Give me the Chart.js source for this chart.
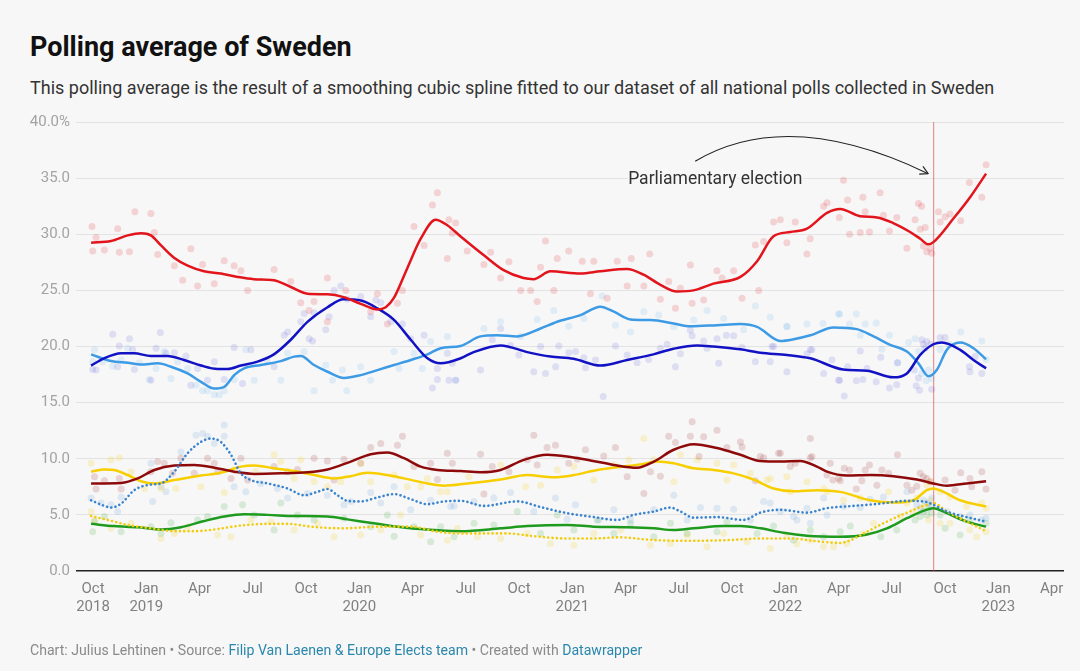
<!DOCTYPE html>
<html>
<head>
<meta charset="utf-8">
<script src="https://cdn.jsdelivr.net/npm/chart.js@4.4.1/dist/chart.umd.min.js"></script>
<style>
html,body{margin:0;padding:0;background:#f7f7f7;}
body{width:1080px;height:671px;position:relative;overflow:hidden;font-family:Roboto,"Noto Sans",sans-serif;}
#title{position:absolute;left:30px;top:31px;font-size:27px;font-weight:700;color:#111;line-height:33px;white-space:nowrap;}
#sub{position:absolute;left:30px;top:76px;font-size:18px;color:#333;line-height:23px;white-space:nowrap;}
#foot{position:absolute;left:30px;top:641px;font-size:14.1px;color:#8a8a8a;line-height:18px;white-space:nowrap;}
#foot a{color:#2a87ad;text-decoration:none;}
#c{position:absolute;left:0;top:0;}
</style>
</head>
<body>
<div id="title">Polling average of Sweden</div>
<div id="sub">This polling average is the result of a smoothing cubic spline fitted to our dataset of all national polls collected in Sweden</div>
<canvas id="c" width="1080" height="671"></canvas>
<div id="foot">Chart: Julius Lehtinen • Source: <a>Filip Van Laenen &amp; Europe Elects team</a> • Created with <a>Datawrapper</a></div>
<script>
// x values: months since 1 Oct 2018; y values: percent
const tickMonths = [0,3,6,9,12,15,18,21,24,27,30,33,36,39,42,45,48,51,54];
const tickLabels = [["Oct","2018"],["Jan","2019"],["Apr"],["Jul"],["Oct"],["Jan","2020"],["Apr"],["Jul"],["Oct"],["Jan","2021"],["Apr"],["Jul"],["Oct"],["Jan","2022"],["Apr"],["Jul"],["Oct"],["Jan","2023"],["Apr"]];
const yTicks = [0,5,10,15,20,25,30,35,40];
const yTickLabels = ["0.0","5.0","10.0","15.0","20.0","25.0","30.0","35.0","40.0%"];
const electionMonth = 47.33;
const electionLabel = "Parliamentary election";

const S_trend = [[-0.11,29.25],[1.01,29.4],[1.95,29.9],[2.7,30.1],[3.26,29.9],[3.83,29.0],[4.56,27.9],[5.33,27.2],[6.25,26.7],[7.2,26.5],[8.14,26.2],[9.06,26.0],[10.19,25.9],[11.14,25.3],[12.08,24.7],[13.21,24.65],[14.12,24.4],[15.08,23.8],[16.02,23.3],[16.49,23.5],[16.94,24.3],[17.71,27.0],[18.46,29.6],[19.3,31.3],[19.96,30.8],[20.71,29.8],[22.0,28.15],[23.13,26.8],[24.25,26.1],[24.82,26.0],[25.77,26.7],[27.46,26.5],[28.58,26.7],[30.09,26.9],[31.01,26.4],[31.96,25.5],[32.9,24.9],[33.82,25.0],[34.95,25.6],[36.47,26.2],[37.41,27.6],[38.32,29.8],[39.28,30.2],[40.22,30.5],[41.35,31.9],[42.09,32.25],[43.22,31.6],[44.16,31.5],[45.08,31.0],[46.03,30.2],[46.6,29.6],[47.06,29.1],[47.34,29.3],[48.47,31.4],[49.41,33.3],[50.31,35.4]];
const SD_trend = [[-0.11,18.3],[0.62,18.95],[1.58,19.4],[2.31,19.4],[3.26,19.15],[4.2,19.15],[5.12,18.8],[6.08,18.3],[7.02,18.0],[7.58,18.0],[8.33,18.3],[9.27,18.65],[10.19,19.3],[11.14,20.6],[12.08,22.2],[13.21,23.5],[14.12,24.2],[15.08,24.1],[16.02,23.4],[16.94,22.4],[17.9,20.6],[18.84,18.95],[19.58,18.5],[20.71,18.95],[21.44,19.5],[22.96,20.1],[24.46,19.5],[25.77,19.1],[27.07,18.9],[28.58,18.3],[30.09,18.8],[31.57,19.3],[32.7,19.8],[34.03,20.1],[34.95,20.0],[36.47,19.75],[37.59,19.45],[39.09,19.25],[40.41,18.95],[42.26,17.95],[43.6,17.85],[45.08,17.25],[45.85,17.6],[46.6,19.25],[47.34,20.2],[47.82,20.35],[48.85,19.7],[49.6,18.8],[50.31,18.05]];
const M_trend = [[-0.11,19.3],[1.01,18.7],[1.95,18.55],[2.7,18.4],[3.64,18.5],[4.39,18.2],[5.33,17.6],[6.08,16.85],[6.83,16.25],[7.39,16.4],[7.95,17.45],[8.51,18.05],[9.45,18.35],[10.58,18.7],[11.33,19.1],[11.71,19.15],[12.45,18.35],[13.21,17.75],[14.14,17.2],[15.08,17.45],[16.02,17.9],[16.96,18.35],[17.9,18.8],[18.84,19.3],[19.58,19.85],[20.71,20.05],[21.83,20.9],[22.77,21.0],[23.9,20.9],[25.21,21.6],[26.15,22.2],[27.46,22.8],[28.58,23.55],[29.34,23.1],[30.28,22.4],[31.4,22.35],[32.71,22.05],[33.65,21.8],[35.15,21.9],[36.47,22.0],[37.41,21.75],[38.72,20.5],[39.47,20.65],[40.41,21.0],[41.72,21.7],[43.03,21.55],[43.97,20.9],[44.91,20.15],[45.85,19.55],[46.5,18.5],[47.06,17.35],[47.53,17.9],[48.1,19.7],[48.85,20.35],[49.6,19.85],[50.31,18.85]];
const V_trend = [[-0.11,7.8],[1.58,7.85],[2.52,8.25],[3.45,9.0],[4.58,9.4],[5.7,9.45],[6.83,9.2],[7.95,8.85],[9.08,8.65],[10.58,8.7],[12.08,8.8],[13.21,9.05],[14.52,9.75],[15.64,10.4],[16.58,10.55],[17.52,10.05],[18.46,9.3],[19.4,9.0],[20.71,8.9],[21.83,8.8],[22.96,9.0],[24.27,9.9],[25.59,10.35],[26.71,10.2],[28.02,9.85],[29.34,9.45],[30.65,9.2],[31.59,9.75],[32.71,10.8],[33.84,11.3],[35.15,10.95],[36.47,10.35],[37.59,9.8],[38.72,9.75],[39.84,9.8],[40.78,9.3],[41.35,8.85],[42.47,8.5],[43.78,8.55],[45.09,8.45],[46.41,8.15],[47.34,7.8],[48.1,7.6],[49.22,7.8],[50.31,8.0]];
const C_trend = [[-0.11,8.85],[0.64,9.05],[1.2,9.0],[1.95,8.55],[2.7,8.0],[3.45,7.8],[4.58,8.1],[6.08,8.5],[7.2,8.75],[8.33,9.3],[9.08,9.4],[10.2,9.15],[11.33,8.9],[12.45,8.55],[13.58,8.25],[14.52,8.45],[15.46,8.75],[16.58,8.55],[17.52,8.25],[18.84,7.8],[19.77,7.6],[21.09,7.8],[22.96,8.15],[24.46,8.55],[25.96,8.35],[27.09,8.55],[28.4,9.0],[29.53,9.25],[30.84,9.5],[31.78,9.75],[32.71,9.6],[33.84,9.15],[34.96,9.0],[36.09,8.7],[37.21,8.15],[38.34,7.35],[39.47,7.1],[40.78,7.2],[42.09,7.05],[43.78,6.3],[45.09,6.1],[46.22,6.3],[46.97,7.2],[47.34,7.35],[47.91,7.05],[48.85,6.3],[50.31,5.75]];
const KD_trend = [[-0.11,6.3],[0.64,5.8],[1.01,5.65],[1.58,6.0],[2.32,7.2],[3.26,7.7],[3.83,7.8],[4.58,8.85],[5.33,10.5],[6.08,11.5],[6.64,11.8],[7.2,11.5],[7.77,10.35],[8.33,8.7],[8.89,8.1],[9.83,7.8],[10.96,7.35],[11.89,6.75],[12.64,7.05],[13.21,7.3],[13.77,6.75],[14.33,6.25],[15.08,6.2],[16.02,6.55],[16.96,6.85],[17.9,6.4],[18.84,5.95],[19.77,6.2],[20.71,6.25],[22.02,5.8],[23.9,6.2],[25.21,5.7],[26.71,5.15],[28.02,4.85],[29.53,4.55],[30.46,5.0],[31.59,5.3],[32.53,5.65],[33.09,5.3],[33.84,4.75],[35.15,4.8],[36.65,4.55],[37.59,5.2],[38.72,5.45],[40.22,5.2],[41.35,5.6],[42.84,5.8],[44.34,6.0],[45.85,6.25],[46.78,6.2],[47.34,5.9],[48.1,5.3],[49.22,4.8],[50.31,4.4]];
const MP_trend = [[-0.11,4.2],[1.2,4.0],[2.52,3.9],[3.83,3.7],[4.95,3.9],[6.26,4.45],[7.39,4.85],[8.51,5.05],[9.83,5.0],[11.33,4.9],[13.21,4.85],[14.33,4.6],[16.02,4.2],[17.9,3.8],[19.21,3.65],[20.71,3.55],[22.96,3.8],[24.46,4.0],[26.71,4.1],[28.21,3.95],[30.09,3.9],[31.59,3.8],[32.71,3.65],[33.84,3.8],[35.53,4.0],[36.47,4.0],[37.59,3.8],[38.9,3.4],[40.22,3.15],[42.09,3.05],[43.6,3.25],[44.72,3.8],[45.85,4.7],[46.78,5.35],[47.34,5.6],[48.1,5.15],[49.22,4.4],[50.31,3.95]];
const L_trend = [[-0.11,4.9],[0.83,4.55],[1.95,4.1],[3.26,3.8],[4.58,3.55],[5.7,3.55],[6.83,3.7],[8.33,4.05],[9.83,4.2],[10.96,4.2],[12.27,3.95],[14.14,3.8],[16.02,3.95],[17.9,3.95],[19.4,3.5],[20.71,3.35],[23.34,3.35],[24.83,3.1],[26.71,2.9],[28.21,2.9],[29.71,3.0],[31.22,2.8],[32.71,2.7],[34.22,2.7],[35.72,2.75],[37.59,2.9],[39.28,2.9],[40.78,2.65],[42.09,2.5],[42.6,2.7],[43.6,3.5],[44.72,4.4],[45.85,5.2],[46.97,5.9],[47.34,6.05],[48.1,5.3],[49.22,4.4],[50.31,3.55]];

const S_polls = [[-0.06,30.7],[0.17,29.7],[-0.02,28.5],[0.64,28.6],[1.39,30.5],[1.48,28.4],[2.05,28.45],[2.36,32.0],[3.26,31.85],[3.45,30.15],[3.64,28.2],[4.58,27.2],[5.05,25.9],[5.51,28.7],[5.89,25.4],[6.17,27.3],[6.83,25.6],[7.39,27.65],[7.95,27.2],[8.33,26.75],[8.71,25.0],[10.2,26.85],[11.14,25.8],[11.7,23.9],[12.17,23.2],[12.45,24.0],[13.2,26.1],[13.2,22.2],[14.24,25.0],[15.64,23.1],[16.02,24.7],[16.58,22.0],[17.15,23.85],[17.43,25.0],[18.08,30.7],[18.65,29.0],[19.12,32.6],[19.4,33.7],[19.96,27.85],[20.24,30.1],[20.05,31.3],[20.43,31.0],[21.08,28.5],[22.02,27.3],[22.4,28.4],[22.96,26.1],[23.43,27.55],[24.09,25.0],[24.65,25.0],[25.02,24.0],[25.21,27.05],[25.49,29.4],[25.96,25.0],[26.15,27.85],[26.8,28.5],[27.56,27.6],[28.02,24.7],[28.21,27.6],[28.96,24.3],[29.53,27.6],[30.09,25.4],[30.32,27.85],[31.03,25.4],[31.36,28.25],[31.96,24.2],[32.43,25.8],[32.81,23.4],[33.09,25.2],[33.65,27.25],[33.75,23.85],[34.4,24.15],[35.15,26.75],[35.44,26.1],[36.09,26.75],[36.56,24.3],[37.31,29.05],[37.5,25.0],[37.78,29.35],[38.34,31.1],[38.72,31.3],[39.09,29.25],[39.56,31.1],[40.22,28.25],[40.4,29.6],[41.16,32.5],[41.35,32.8],[42.28,34.8],[42.51,33.05],[42.04,31.5],[43.37,33.3],[44.34,33.7],[42.62,30.0],[43.22,30.15],[43.74,30.2],[43.5,32.0],[44.53,31.7],[44.87,30.3],[45.28,31.5],[45.85,28.75],[46.31,31.3],[46.5,32.75],[46.68,32.5],[46.88,30.6],[46.6,30.45],[46.78,28.95],[46.97,28.45],[47.16,28.75],[47.25,28.3],[47.63,32.0],[47.72,31.1],[48.0,31.55],[48.28,31.8],[48.88,31.2],[49.37,34.6],[50.07,33.3],[50.31,36.2]];
const SD_polls = [[1.11,21.1],[1.48,20.05],[2.05,20.7],[2.23,19.7],[-0.02,17.95],[0.17,17.9],[1.39,18.2],[2.33,17.95],[3.26,17.0],[3.55,19.85],[3.79,21.25],[4.11,19.4],[4.58,19.45],[5.23,19.15],[5.51,16.55],[5.89,18.05],[6.45,17.0],[6.83,18.65],[7.39,17.05],[7.95,19.9],[8.42,16.7],[8.89,19.7],[10.2,18.2],[10.77,21.0],[10.96,21.3],[11.7,22.2],[11.89,22.95],[12.17,20.7],[12.36,20.5],[12.45,23.0],[13.11,21.5],[13.3,22.65],[13.58,25.0],[13.96,25.4],[14.33,24.2],[15.08,24.45],[15.64,22.65],[15.93,24.15],[16.21,23.9],[16.77,22.2],[17.43,22.0],[17.9,20.7],[18.65,21.0],[19.12,16.3],[19.4,17.05],[19.4,18.05],[20.05,17.0],[20.24,18.5],[19.96,19.4],[20.43,17.0],[21.83,17.9],[22.49,20.6],[22.96,21.6],[23.52,20.1],[23.99,19.25],[24.83,17.75],[25.21,20.0],[25.49,17.6],[26.06,18.2],[26.24,20.05],[26.8,19.45],[27.18,19.55],[27.65,19.0],[27.74,18.1],[28.31,18.8],[28.74,15.55],[29.43,20.05],[30.09,19.25],[30.65,18.55],[31.3,18.85],[31.96,19.85],[32.34,20.2],[32.81,18.2],[33.09,19.35],[33.65,21.45],[33.75,20.95],[34.4,20.5],[34.59,19.85],[35.15,20.7],[35.25,18.5],[35.68,21.0],[36.09,20.95],[36.56,19.9],[37.31,18.65],[38.15,18.65],[38.34,20.0],[39.09,17.75],[40.22,19.35],[40.5,19.7],[41.16,17.6],[42.0,17.0],[38.25,20.0],[40.41,19.7],[41.63,18.8],[42.06,17.0],[42.32,15.6],[42.51,18.2],[43.0,16.95],[43.22,19.6],[43.37,17.05],[43.6,18.05],[44.12,16.85],[44.38,19.05],[44.87,16.3],[45.28,16.6],[45.32,18.55],[46.26,17.9],[46.37,16.5],[46.5,17.2],[46.56,16.1],[46.69,20.6],[46.78,20.2],[46.87,19.85],[46.97,20.45],[47.19,20.2],[47.25,16.2],[47.72,20.8],[48.0,20.8],[49.37,18.2],[49.4,17.75],[50.07,17.6],[49.7,19.1]];
const M_polls = [[0.08,19.7],[-0.02,18.65],[0.54,18.65],[1.11,18.25],[1.58,18.8],[1.95,19.85],[2.61,18.55],[3.17,17.05],[3.55,18.05],[4.01,19.55],[4.39,17.15],[4.77,18.65],[5.33,18.05],[5.8,16.55],[6.17,16.05],[6.45,16.05],[6.83,15.7],[7.11,15.7],[7.39,16.05],[7.95,17.05],[8.61,19.7],[9.08,17.0],[9.83,18.65],[10.58,17.0],[10.96,19.4],[11.89,19.55],[12.45,16.05],[13.11,18.35],[13.49,17.0],[14.05,17.9],[14.29,16.05],[15.08,18.2],[15.64,17.0],[16.96,19.55],[17.24,18.05],[18.08,19.4],[18.55,18.05],[19.02,20.45],[19.96,20.9],[20.43,17.0],[22.02,21.6],[22.96,22.2],[24.09,20.9],[25.02,22.4],[25.96,23.2],[26.8,21.8],[27.65,22.5],[28.68,24.5],[29.43,21.9],[30.28,21.3],[31.03,23.1],[31.87,22.8],[32.72,21.75],[33.84,22.35],[34.59,23.2],[35.53,22.5],[36.65,21.5],[37.31,23.6],[38.15,22.6],[39.09,21.75],[40.22,22.0],[42.0,22.9],[39.09,21.8],[41.12,22.05],[42.06,22.9],[42.62,22.0],[43.0,22.9],[43.22,21.0],[43.5,22.0],[44.12,22.1],[44.44,19.75],[44.87,21.0],[45.32,18.55],[45.94,20.35],[46.31,20.7],[46.5,19.55],[46.69,17.6],[46.93,16.95],[47.07,17.9],[47.25,17.15],[47.72,19.7],[48.24,20.2],[48.88,21.3],[50.07,20.5],[50.31,18.85]];
const V_polls = [[0.08,8.4],[0.17,7.3],[0.64,8.05],[1.48,8.25],[1.58,7.3],[3.26,8.85],[3.64,9.75],[4.01,9.6],[4.48,8.7],[4.95,10.05],[5.7,8.7],[6.45,10.05],[6.83,9.6],[7.02,8.85],[7.77,8.25],[8.33,10.05],[8.71,8.1],[10.2,9.3],[10.96,8.85],[11.52,9.05],[12.45,10.05],[13.2,9.8],[13.58,8.1],[14.14,9.95],[15.08,9.6],[15.64,11.0],[16.21,11.35],[17.15,11.2],[17.43,12.0],[18.08,9.3],[19.02,9.6],[19.4,8.15],[19.96,10.5],[20.24,9.6],[21.83,10.4],[22.02,6.85],[22.49,9.3],[23.43,8.85],[24.46,9.9],[24.83,12.1],[25.02,9.45],[25.58,11.0],[26.05,11.2],[26.8,9.6],[27.28,9.95],[27.74,10.8],[28.77,10.25],[29.43,11.0],[30.09,8.4],[31.03,6.9],[31.4,8.85],[31.96,8.45],[32.43,12.0],[32.81,11.45],[33.65,12.0],[33.75,13.3],[34.14,10.2],[34.4,11.95],[35.15,12.55],[35.71,11.0],[36.47,11.5],[36.56,11.05],[37.31,8.05],[37.59,10.2],[38.72,10.5],[39.28,9.3],[40.41,11.8],[40.5,10.2],[41.53,9.6],[42.0,8.25],[37.78,10.1],[38.62,10.5],[39.56,9.6],[40.41,10.1],[41.35,8.55],[41.68,8.1],[42.09,8.05],[42.32,9.15],[42.62,9.0],[43.0,7.3],[43.31,8.05],[43.5,9.0],[43.74,9.45],[44.16,7.65],[44.44,9.0],[44.82,8.7],[45.32,10.35],[45.85,7.65],[46.13,7.2],[46.41,7.55],[46.6,8.7],[46.78,8.4],[46.97,8.25],[47.16,7.95],[48.0,8.1],[48.56,7.2],[48.88,8.75],[49.4,8.25],[49.5,7.5],[50.07,8.85],[50.31,7.3]];
const C_polls = [[-0.11,9.6],[1.01,9.9],[1.48,10.1],[2.14,8.85],[2.89,7.35],[3.83,7.35],[4.67,7.35],[6.08,7.5],[7.39,7.0],[7.95,9.0],[9.17,8.85],[10.2,10.35],[10.58,9.75],[11.33,8.25],[11.7,9.9],[12.45,7.95],[13.2,7.5],[13.96,7.95],[15.08,9.6],[15.64,7.95],[16.96,8.55],[17.71,7.5],[18.46,7.5],[18.83,8.25],[19.96,7.05],[19.58,7.05],[21.18,8.4],[22.96,9.45],[24.37,7.5],[25.21,7.65],[26.15,9.0],[27.09,9.3],[28.21,8.1],[29.34,9.45],[30.18,9.9],[31.03,11.8],[31.59,9.9],[32.72,7.95],[33.09,10.35],[34.03,9.9],[35.15,9.6],[35.71,8.1],[36.09,9.45],[37.03,8.7],[37.97,8.1],[39.28,7.05],[40.22,7.95],[41.35,7.05],[38.15,8.25],[39.09,8.4],[41.16,7.35],[42.28,6.3],[43.22,6.5],[44.82,7.05],[45.85,6.05],[46.41,6.5],[46.97,7.65],[47.16,7.95],[47.72,7.05],[48.28,6.6],[49.22,5.75],[50.07,6.05],[50.31,5.6]];
const KD_polls = [[-0.11,6.5],[0.45,6.05],[1.01,5.9],[1.58,6.6],[1.39,5.3],[3.26,9.6],[3.36,6.2],[3.83,7.5],[4.11,7.05],[4.95,10.6],[5.8,12.1],[6.17,12.25],[6.45,12.0],[6.83,11.35],[7.39,13.0],[7.39,12.0],[7.95,7.5],[8.61,7.05],[9.45,7.8],[10.39,7.35],[10.96,6.5],[12.08,6.9],[13.2,6.75],[14.14,5.9],[14.52,6.2],[15.64,7.0],[16.21,6.05],[16.96,7.5],[17.9,5.45],[19.02,6.3],[20.15,5.75],[20.34,5.8],[21.46,6.2],[22.58,6.5],[23.52,7.0],[24.83,5.3],[26.05,6.5],[26.71,4.6],[27.18,5.9],[28.49,4.55],[29.34,5.45],[30.28,4.55],[31.59,5.45],[32.72,6.75],[33.47,4.55],[34.22,5.65],[35.15,5.6],[36.09,5.5],[37.03,4.55],[37.78,6.2],[38.72,5.3],[39.66,4.55],[40.22,5.6],[41.35,5.0],[38.15,6.05],[39.46,4.85],[40.41,4.25],[41.16,6.5],[42.28,5.75],[43.22,5.65],[43.78,6.4],[44.53,6.6],[45.85,7.05],[46.41,5.9],[46.6,5.6],[46.78,6.3],[46.97,6.05],[47.16,5.9],[47.25,6.5],[48.1,5.3],[48.85,4.85],[49.4,5.0],[50.07,4.55],[50.31,4.7]];
const MP_polls = [[-0.02,3.5],[0.08,4.4],[0.64,4.85],[1.58,3.5],[3.26,3.95],[3.83,3.35],[4.39,4.3],[5.89,4.55],[6.45,4.85],[7.39,5.75],[8.42,5.9],[9.08,5.0],[10.2,3.65],[10.58,6.05],[11.52,5.0],[12.45,4.55],[14.14,4.7],[15.64,3.95],[16.58,5.0],[16.96,3.1],[18.08,3.95],[19.02,2.6],[19.58,3.95],[20.34,3.05],[21.46,4.25],[22.58,4.1],[23.9,5.3],[25.21,3.35],[26.15,5.0],[27.09,3.65],[28.4,4.55],[29.34,3.35],[30.28,4.2],[31.59,3.05],[32.53,4.25],[33.47,3.35],[35.15,3.5],[35.71,4.4],[37.41,3.35],[38.34,4.0],[39.46,2.75],[41.16,3.05],[40.41,3.65],[42.09,3.5],[42.66,4.0],[44.38,3.05],[45.28,3.65],[46.31,4.55],[46.6,4.85],[46.78,5.3],[46.97,5.0],[47.07,5.6],[47.25,5.15],[47.72,5.0],[48.0,3.8],[48.85,3.2],[49.4,4.55],[50.31,4.25]];
const L_polls = [[-0.11,5.3],[0.08,4.55],[1.01,3.8],[2.14,4.25],[3.83,2.9],[4.58,3.35],[5.33,3.95],[7.02,3.2],[7.77,3.05],[8.89,4.55],[10.02,4.4],[11.33,3.65],[12.64,4.25],[13.58,3.05],[15.08,3.2],[16.21,3.65],[17.33,5.0],[18.46,3.2],[19.96,2.75],[20.52,3.8],[21.65,3.05],[22.96,2.9],[24.46,3.35],[25.77,2.45],[27.09,2.3],[28.21,3.35],[29.71,3.65],[31.4,2.3],[32.53,2.45],[33.47,3.2],[34.59,2.15],[35.53,3.35],[36.84,2.6],[38.15,2.0],[39.09,3.2],[40.41,2.75],[41.72,2.15],[39.66,2.4],[41.16,2.15],[42.47,2.45],[43.41,3.35],[43.97,4.25],[45.47,4.85],[46.22,5.3],[46.78,5.75],[47.07,4.55],[47.16,6.3],[47.72,4.25],[48.28,4.25],[49.4,3.65],[49.78,3.05],[50.31,3.5]];

const parties = [
  {trend:S_trend, polls:S_polls, color:'#e2141c', poll:'rgba(226,20,28,0.16)', dash:false},
  {trend:SD_trend, polls:SD_polls, color:'#1212c4', poll:'rgba(40,40,215,0.12)', dash:false},
  {trend:M_trend, polls:M_polls, color:'#3d9be6', poll:'rgba(61,155,230,0.13)', dash:false},
  {trend:V_trend, polls:V_polls, color:'#8e0a0a', poll:'rgba(142,10,10,0.15)', dash:false},
  {trend:C_trend, polls:C_polls, color:'#f7cf00', poll:'rgba(247,207,0,0.18)', dash:false},
  {trend:KD_trend, polls:KD_polls, color:'#3a84d0', poll:'rgba(58,132,208,0.14)', dash:true},
  {trend:MP_trend, polls:MP_polls, color:'#1e9a1e', poll:'rgba(30,154,30,0.15)', dash:false},
  {trend:L_trend, polls:L_polls, color:'#f2cc10', poll:'rgba(242,204,16,0.18)', dash:true}
];

const datasets = [];
parties.forEach(p => {
  datasets.push({
    type:'scatter',
    data:p.polls.map(d => ({x:d[0], y:d[1]})),
    backgroundColor:p.poll, borderWidth:0, pointRadius:3.5, pointHoverRadius:3.5,
    order:20
  });
});
parties.forEach(p => {
  datasets.push({
    type:'line',
    data:p.trend.map(d => ({x:d[0], y:d[1]})),
    borderColor:p.color, borderWidth:p.dash?2.6:2.5,
    borderDash:p.dash?[0.1,4.2]:[], borderCapStyle:p.dash?'round':'butt',
    pointRadius:0, cubicInterpolationMode:'monotone', fill:false,
    order:1 + (p.dash?0:1)
  });
});

const electionPlugin = {
  id:'election',
  beforeDatasetsDraw(chart){
    const {ctx, chartArea, scales:{x}} = chart;
    const ex = Math.round(x.getPixelForValue(electionMonth));
    ctx.save();
    ctx.fillStyle = 'rgba(220,70,70,0.55)';
    ctx.fillRect(ex, chartArea.top, 1.2, chartArea.bottom - chartArea.top);
    ctx.restore();
  },
  afterDatasetsDraw(chart){
    const {ctx, scales:{x,y}} = chart;
    const ex = x.getPixelForValue(electionMonth);
    ctx.save();
    ctx.font = '17.5px Roboto';
    ctx.textBaseline = 'alphabetic';
    ctx.lineJoin = 'round';
    ctx.strokeStyle = '#f7f7f7'; ctx.lineWidth = 4;
    const tx = ex - 305, ty = y.getPixelForValue(34.5);
    ctx.strokeText(electionLabel, tx, ty);
    ctx.fillStyle = '#333'; ctx.fillText(electionLabel, tx, ty);
    const sx = ex - 238, sy = y.getPixelForValue(36.5);
    const cx = ex - 145, cy = y.getPixelForValue(41.4);
    const px = ex - 5, py = y.getPixelForValue(35.4);
    ctx.strokeStyle = '#222'; ctx.lineWidth = 1.1;
    ctx.beginPath(); ctx.moveTo(sx, sy); ctx.quadraticCurveTo(cx, cy, px, py); ctx.stroke();
    const ang = Math.atan2(py - cy, px - cx);
    const L = 9;
    ctx.beginPath();
    ctx.moveTo(px - L*Math.cos(ang - 0.5), py - L*Math.sin(ang - 0.5));
    ctx.lineTo(px, py);
    ctx.lineTo(px - L*Math.cos(ang + 0.5), py - L*Math.sin(ang + 0.5));
    ctx.stroke();
    ctx.restore();
  }
};

new Chart(document.getElementById('c'), {
  type:'line',
  data:{datasets},
  plugins:[electionPlugin],
  options:{
    responsive:false, animation:false, devicePixelRatio:1,
    layout:{padding:{top:122, right:16, bottom:0, left:0}},
    plugins:{legend:{display:false}, tooltip:{enabled:false}},
    events:[],
    scales:{
      x:{
        type:'linear', min:-0.96, max:54.7,
        afterBuildTicks:s => { s.ticks = tickMonths.map(v => ({value:v})); },
        afterFit:s => { s.height = 100; },
        grid:{display:false, drawTicks:false},
        border:{display:false},
        ticks:{
          autoSkip:false, maxRotation:0, minRotation:0, padding:9,
          color:'#808080', font:{family:'Roboto', size:15, lineHeight:1.2},
          callback:v => tickLabels[tickMonths.indexOf(v)]
        }
      },
      y:{
        type:'linear', min:0, max:40,
        afterBuildTicks:s => { s.ticks = yTicks.map(v => ({value:v})); },
        afterFit:s => { s.width = 76; },
        grid:{
          drawTicks:false,
          color:c => c.tick && c.tick.value === 0 ? '#222' : '#e3e3e3',
          lineWidth:c => c.tick && c.tick.value === 0 ? 1.4 : 1
        },
        border:{display:false},
        ticks:{
          padding:6, color:'#a3a3a3', font:{family:'Roboto', size:15},
          callback:v => yTickLabels[yTicks.indexOf(v)]
        }
      }
    }
  }
});
</script>
</body>
</html>
